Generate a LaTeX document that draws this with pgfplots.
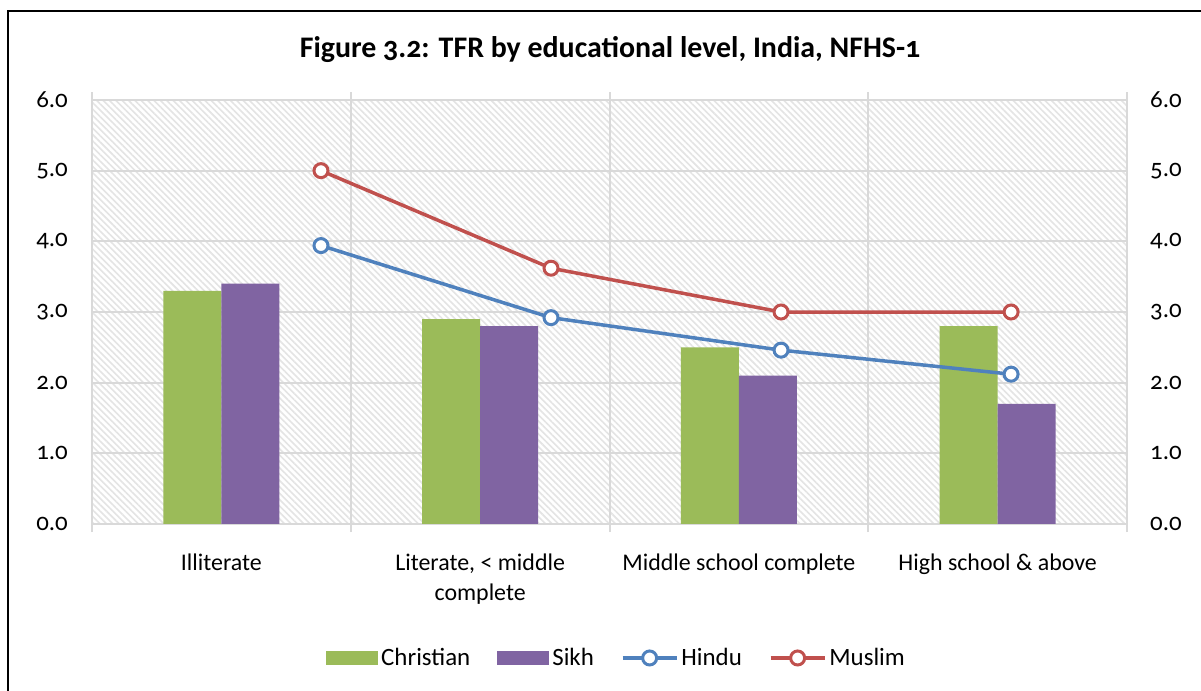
\documentclass[border=0pt]{standalone}
\usepackage{fontspec}
\setmainfont{Carlito}[Numbers=OldStyle]
\usepackage{pgfplots}
\pgfplotsset{compat=1.18}
\usetikzlibrary{patterns.meta}
\definecolor{cgreen}{HTML}{9BBB59}
\definecolor{cpurple}{HTML}{8064A2}
\definecolor{cblue}{HTML}{4F81BD}
\definecolor{cred}{HTML}{C0504D}
\definecolor{gridgray}{HTML}{D9D9D9}
\definecolor{hatch}{HTML}{E4E4E4}
\pgfplotsset{
  barleg/.style={legend image code/.code={\fill[##1] (0bp,-7bp) rectangle (52bp,7bp);}},
  lineleg/.style={legend image code/.code={\draw[mark repeat=2,mark phase=2,##1] plot coordinates {(0bp,0bp) (27bp,0bp) (54bp,0bp)};}},
}
\begin{document}
\begin{tikzpicture}
\path[use as bounding box] (0bp,0bp) rectangle (1201bp,691bp);
\draw[line width=2bp] (8bp,0bp) -- (8bp,680bp) -- (1202bp,680bp);
\node[font=\bfseries\fontsize{30}{33}\selectfont] at (610bp,641bp) {Figure 3.2: TFR by educational level, India, NFHS-1};
\begin{axis}[
  at={(92bp,167bp)}, anchor=south west,
  width=1035bp, height=424bp, scale only axis,
  xmin=0, xmax=4, ymin=0, ymax=6,
  axis background/.style={fill=white, postaction={pattern={Lines[angle=-45,distance=4.5bp,line width=1.6bp]}, pattern color=hatch}},
  axis line style={draw=gridgray, line width=2bp},
  xtick={0,1,2,3,4}, xticklabels={,,,,},
  tick align=outside, major tick length=8bp,
  x tick style={draw=gridgray, line width=2bp},
  y tick style={draw=none},
  ytick={0,1,2,3,4,5,6},
  xmajorgrids, ymajorgrids,
  grid style={draw=gridgray, line width=2bp},
  yticklabel style={font=\fontsize{25}{28}\selectfont, inner sep=0pt, anchor=east, xshift=-16bp},
  /pgf/number format/assume math mode=true,
  /pgf/number format/.cd, fixed, fixed zerofill, precision=1, /pgfplots/.cd,
  extra x ticks={0.5,1.5,2.5,3.5},
  extra x tick labels={Illiterate,{Literate, < middle\\complete},Middle school complete,High school \& above},
  extra x tick style={grid=none, major tick length=0pt, tick style={draw=none},
    tick label style={font=\fontsize{24}{30}\selectfont, align=center, anchor=north, inner sep=0pt, yshift=-30bp}},
  legend columns=4,
  legend style={at={(0.2261,-0.316)}, anchor=west, draw=none, fill=none, inner sep=0pt,
    font=\fontsize{25}{28}\selectfont,
    nodes={inner xsep=3bp},
    /tikz/every even column/.append style={column sep=24bp}},
]
\addplot[ybar, bar width=58bp, bar shift=-29bp, fill=cgreen, draw=none, barleg]
  coordinates {(0.5,3.3) (1.5,2.9) (2.5,2.5) (3.5,2.8)};
\addlegendentry{Christian}
\addplot[ybar, bar width=58bp, bar shift=29bp, fill=cpurple, draw=none, barleg]
  coordinates {(0.5,3.4) (1.5,2.8) (2.5,2.1) (3.5,1.7)};
\addlegendentry{Sikh}
\addplot[color=cblue, line width=3.5bp, mark=*, mark size=7bp, mark options={fill=white, draw=cblue, line width=3bp}, lineleg]
  coordinates {(0.885,3.94) (1.774,2.92) (2.663,2.46) (3.552,2.12)};
\addlegendentry{Hindu}
\addplot[color=cred, line width=3.5bp, mark=*, mark size=7bp, mark options={fill=white, draw=cred, line width=3bp}, lineleg]
  coordinates {(0.885,5.0) (1.774,3.62) (2.663,3.0) (3.552,3.0)};
\addlegendentry{Muslim}
\end{axis}
\begin{axis}[
  at={(92bp,167bp)}, anchor=south west,
  width=1035bp, height=424bp, scale only axis,
  xmin=0, xmax=4, ymin=0, ymax=6,
  hide x axis, axis y line*=right,
  y axis line style={draw=none},
  ytick={0,1,2,3,4,5,6}, y tick style={draw=none},
  major tick length=0pt,
  yticklabel style={font=\fontsize{25}{28}\selectfont, inner sep=0pt, anchor=west, xshift=23bp},
  /pgf/number format/assume math mode=true,
  /pgf/number format/.cd, fixed, fixed zerofill, precision=1, /pgfplots/.cd,
]
\addplot[draw=none, forget plot] coordinates {(0,0)};
\end{axis}
\end{tikzpicture}
\end{document}
